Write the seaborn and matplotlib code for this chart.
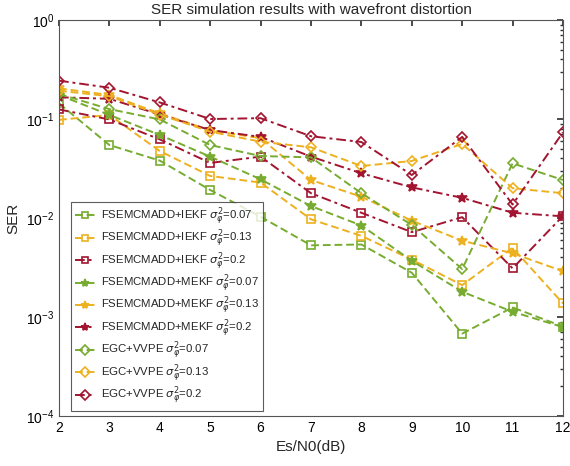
import matplotlib
matplotlib.use("Agg")
import matplotlib.pyplot as plt
import seaborn as sns
import pandas as pd
import numpy as np

snr = [2, 3, 4, 5, 6, 7, 8, 9, 10, 11, 12]

iekf_007 = [0.144, 0.0546, 0.038, 0.0192, 0.0103, 0.0053, 0.0054, 0.0028, 0.00068, 0.00125, 0.0008]
iekf_013 = [0.098, 0.11, 0.0475, 0.0266, 0.0228, 0.0097, 0.0066, 0.0038, 0.0021, 0.005, 0.00137]
iekf_02 = [0.125, 0.099, 0.0623, 0.036, 0.0417, 0.0178, 0.0113, 0.0072, 0.0102, 0.0031, 0.0105]
mekf_007 = [0.175, 0.11, 0.069, 0.0417, 0.0246, 0.0132, 0.0084, 0.0037, 0.0018, 0.00113, 0.00079]
mekf_013 = [0.204, 0.175, 0.114, 0.077, 0.064, 0.0242, 0.0164, 0.0094, 0.0059, 0.0044, 0.0029]
mekf_02 = [0.166, 0.16, 0.111, 0.0774, 0.066, 0.0417, 0.0283, 0.0204, 0.016, 0.0113, 0.0104]
egc_007 = [0.179, 0.126, 0.099, 0.0546, 0.0423, 0.041, 0.0178, 0.0085, 0.00305, 0.0357, 0.0242]
egc_013 = [0.193, 0.17, 0.111, 0.0745, 0.059, 0.0518, 0.0335, 0.0377, 0.056, 0.020, 0.0178]
egc_02 = [0.244, 0.207, 0.147, 0.100, 0.102, 0.067, 0.0586, 0.0272, 0.066, 0.0137, 0.0733]

labels = [
    r"FSEMCMADD+IEKF $\sigma_\varphi^2$=0.07",
    r"FSEMCMADD+IEKF $\sigma_\varphi^2$=0.13",
    r"FSEMCMADD+IEKF $\sigma_\varphi^2$=0.2",
    r"FSEMCMADD+MEKF $\sigma_\varphi^2$=0.07",
    r"FSEMCMADD+MEKF $\sigma_\varphi^2$=0.13",
    r"FSEMCMADD+MEKF $\sigma_\varphi^2$=0.2",
    r"EGC+VVPE $\sigma_\varphi^2$=0.07",
    r"EGC+VVPE $\sigma_\varphi^2$=0.13",
    r"EGC+VVPE $\sigma_\varphi^2$=0.2",
]
series = [iekf_007, iekf_013, iekf_02, mekf_007, mekf_013, mekf_02, egc_007, egc_013, egc_02]

green, yellow, red = "#77AC30", "#EDB120", "#A2142F"
colors = [green, yellow, red] * 3
markers = ["s"] * 3 + ["*"] * 3 + ["D"] * 3
filled = [False] * 3 + [True] * 3 + [False] * 3
styles = [(0, (4, 2)), (0, (4, 2)), (0, (5, 2, 1.5, 2))] * 3

sns.set_theme(style="white")
plt.rcParams["font.family"] = ["Liberation Sans", "DejaVu Sans"]
plt.rcParams["mathtext.fontset"] = "dejavusans"

fig = plt.figure(figsize=(5.70, 4.66), dpi=100)
ax = fig.add_axes([0.1035, 0.1073, 0.8842, 0.8497])

for lab, vals, c, m, f, ls in zip(labels, series, colors, markers, filled, styles):
    df = pd.DataFrame({"snr": snr, "ser": vals})
    kw = dict(markerfacecolor=c if f else "none", markeredgecolor=c,
              markersize=7 if m == "*" else 5.5,
              markeredgewidth=1.2)
    sns.lineplot(data=df, x="snr", y="ser", ax=ax, color=c, marker=m,
                 linestyle=ls, linewidth=1.4, label=lab, **kw)

ax.set_yscale("log")
ax.set_xlim(2, 12)
ax.set_ylim(1e-4, 1)
ax.set_xticks(snr)
ax.set_xticklabels([str(v) for v in snr])
ax.tick_params(axis="both", which="both", direction="in", top=True, right=True,
               labelsize=10, colors="#333333", labelcolor="black")
ax.tick_params(which="major", length=4)
ax.tick_params(which="minor", length=2)
for s in ax.spines.values():
    s.set_color("#555555")
    s.set_linewidth(0.8)
ax.set_xlabel("Es/N0(dB)", fontsize=11)
ax.set_ylabel("SER", fontsize=11)
ax.set_title("SER simulation results with wavefront distortion", fontsize=11, pad=4)

leg = ax.legend(loc="lower left", bbox_to_anchor=(0.012, -0.002), fontsize=8.2,
                frameon=True, fancybox=False, edgecolor="#333333",
                handlelength=1.8, handletextpad=0.5, labelspacing=0.02,
                borderpad=0.35, markerscale=0.85)
leg.get_frame().set_linewidth(0.8)

fig.savefig("out.png", dpi=100)
